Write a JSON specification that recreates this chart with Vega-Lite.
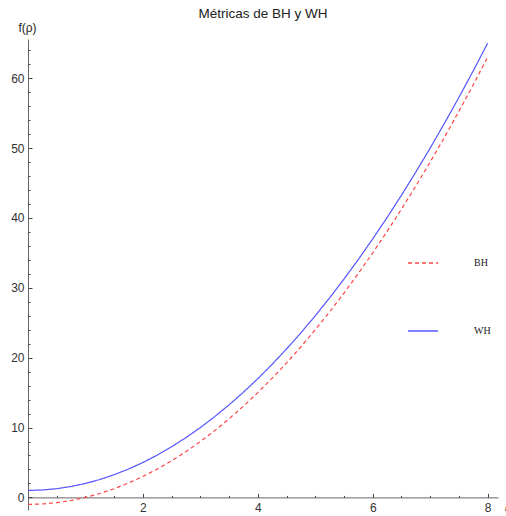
{
  "$schema": "https://vega.github.io/schema/vega-lite/v6.json",
  "width": 470,
  "height": 471,
  "autosize": "none",
  "padding": {"left": 28, "top": 39, "right": 8, "bottom": 6},
  "background": "white",
  "title": {"text": "Métricas de BH y WH", "font": "Liberation Sans", "fontSize": 13.5, "fontWeight": "normal", "color": "#222222", "anchor": "middle", "offset": 1},
  "config": {
    "view": {"stroke": null},
    "axis": {"grid": false, "labelFont": "Liberation Sans", "labelFontSize": 12, "labelColor": "#333333", "domainColor": "#666666", "tickColor": "#444444", "titleFont": "Liberation Sans", "titleFontSize": 12, "titleFontWeight": "normal", "titleColor": "#222222"},
    "legend": {"symbolType": "stroke", "symbolSize": 900, "symbolStrokeWidth": 1.3, "labelFont": "Liberation Serif", "labelFontSize": 10, "labelColor": "#222222", "labelOffset": 35, "rowPadding": 47, "padding": 0, "title": null}
  },
  "data": {"values": [
    {"rho": 0, "BH": -1, "WH": 1},
    {"rho": 0.25, "BH": -0.9375, "WH": 1.0625},
    {"rho": 0.5, "BH": -0.75, "WH": 1.25},
    {"rho": 0.75, "BH": -0.4375, "WH": 1.5625},
    {"rho": 1, "BH": 0, "WH": 2},
    {"rho": 1.25, "BH": 0.5625, "WH": 2.5625},
    {"rho": 1.5, "BH": 1.25, "WH": 3.25},
    {"rho": 1.75, "BH": 2.0625, "WH": 4.0625},
    {"rho": 2, "BH": 3, "WH": 5},
    {"rho": 2.25, "BH": 4.0625, "WH": 6.0625},
    {"rho": 2.5, "BH": 5.25, "WH": 7.25},
    {"rho": 2.75, "BH": 6.5625, "WH": 8.5625},
    {"rho": 3, "BH": 8, "WH": 10},
    {"rho": 3.25, "BH": 9.5625, "WH": 11.5625},
    {"rho": 3.5, "BH": 11.25, "WH": 13.25},
    {"rho": 3.75, "BH": 13.0625, "WH": 15.0625},
    {"rho": 4, "BH": 15, "WH": 17},
    {"rho": 4.25, "BH": 17.0625, "WH": 19.0625},
    {"rho": 4.5, "BH": 19.25, "WH": 21.25},
    {"rho": 4.75, "BH": 21.5625, "WH": 23.5625},
    {"rho": 5, "BH": 24, "WH": 26},
    {"rho": 5.25, "BH": 26.5625, "WH": 28.5625},
    {"rho": 5.5, "BH": 29.25, "WH": 31.25},
    {"rho": 5.75, "BH": 32.0625, "WH": 34.0625},
    {"rho": 6, "BH": 35, "WH": 37},
    {"rho": 6.25, "BH": 38.0625, "WH": 40.0625},
    {"rho": 6.5, "BH": 41.25, "WH": 43.25},
    {"rho": 6.75, "BH": 44.5625, "WH": 46.5625},
    {"rho": 7, "BH": 48, "WH": 50},
    {"rho": 7.25, "BH": 51.5625, "WH": 53.5625},
    {"rho": 7.5, "BH": 55.25, "WH": 57.25},
    {"rho": 7.75, "BH": 59.0625, "WH": 61.0625},
    {"rho": 8, "BH": 63, "WH": 65}
  ]},
  "transform": [{"fold": ["BH", "WH"], "as": ["serie", "f"]}],
  "resolve": {"axis": {"x": "independent", "y": "independent"}},
  "layer": [
    {
      "mark": {"type": "line", "strokeWidth": 1.2, "opacity": 0},
      "encoding": {
        "x": {"field": "rho", "type": "quantitative", "scale": {"domain": [0, 8.18], "nice": false, "zero": false},
              "axis": {"orient": "bottom", "offset": -12.6, "values": [0.5,1,1.5,2,2.5,3,3.5,4,4.5,5,5.5,6,6.5,7,7.5,8], "labels": false, "domain": false, "tickSize": -2, "title": null}},
        "y": {"field": "f", "type": "quantitative", "scale": {"domain": [-1.8, 65.6], "nice": false, "zero": false},
              "axis": {"orient": "left", "values": [2,4,6,8,10,12,14,16,18,20,22,24,26,28,30,32,34,36,38,40,42,44,46,48,50,52,54,56,58,60,62,64], "labels": false, "domain": false, "tickSize": -2, "title": null}},
        "detail": {"field": "serie"}
      }
    },
    {
      "mark": {"type": "line", "strokeWidth": 1.2},
      "encoding": {
        "x": {"field": "rho", "type": "quantitative", "scale": {"domain": [0, 8.18], "nice": false, "zero": false},
              "axis": {"orient": "bottom", "offset": -12.6, "values": [2, 4, 6, 8], "tickSize": -4, "labelPadding": 9, "labelFlush": false, "title": "ρ", "titleFontStyle": "italic", "titleAngle": 0, "titleX": 477, "titleY": 6, "titleAlign": "left", "titleBaseline": "middle"}},
        "y": {"field": "f", "type": "quantitative", "scale": {"domain": [-1.8, 65.6], "nice": false, "zero": false},
              "axis": {"orient": "left", "values": [0, 10, 20, 30, 40, 50, 60], "tickSize": -4, "labelPadding": 8, "labelFlush": false, "title": "f(ρ)", "titleAngle": 0, "titleX": -1, "titleY": -8, "titleAlign": "center", "titleBaseline": "alphabetic"}},
        "color": {"field": "serie", "type": "nominal", "scale": {"domain": ["BH", "WH"], "range": ["#ff4545", "#5555ff"]},
                  "legend": {"orient": "none", "legendX": 379, "legendY": 208, "direction": "vertical"}},
        "strokeDash": {"field": "serie", "type": "nominal", "scale": {"domain": ["BH", "WH"], "range": [[4, 3], [1, 0]]},
                  "legend": {"orient": "none", "legendX": 379, "legendY": 208, "direction": "vertical"}}
      }
    }
  ]
}
